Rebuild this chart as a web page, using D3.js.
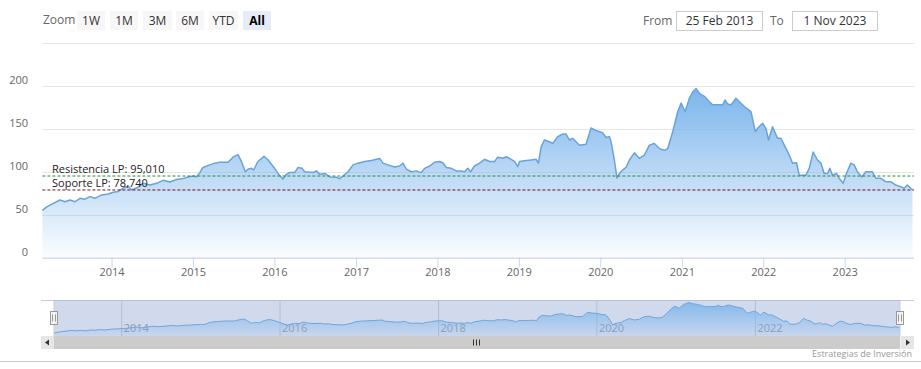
<!DOCTYPE html>
<html><head><meta charset="utf-8">
<script src="https://cdn.jsdelivr.net/npm/d3@7"></script>
<style>
body{margin:0;background:#fff;}
svg{display:block;font-family:"Open Sans",sans-serif;}
</style></head>
<body><svg id="c" width="921" height="369"></svg>
<script>
// ---- data (decimal year, value) ----
const years = [2013.151,2013.204,2013.244,2013.367,2013.428,2013.489,2013.551,2013.612,2013.673,2013.735,2013.796,2013.878,2013.959,2014.020,2014.082,2014.143,2014.204,2014.246,2014.307,2014.388,2014.471,2014.553,2014.634,2014.716,2014.798,2014.879,2014.940,2015.002,2015.043,2015.084,2015.124,2015.206,2015.268,2015.329,2015.431,2015.492,2015.553,2015.595,2015.644,2015.676,2015.718,2015.746,2015.799,2015.872,2015.921,2015.995,2016.044,2016.105,2016.147,2016.187,2016.249,2016.289,2016.338,2016.371,2016.473,2016.515,2016.555,2016.617,2016.678,2016.760,2016.801,2016.841,2016.902,2016.964,2017.025,2017.107,2017.189,2017.291,2017.331,2017.393,2017.475,2017.536,2017.577,2017.618,2017.680,2017.741,2017.802,2017.843,2017.904,2017.965,2018.027,2018.067,2018.109,2018.170,2018.232,2018.293,2018.333,2018.374,2018.407,2018.456,2018.517,2018.579,2018.640,2018.701,2018.742,2018.803,2018.845,2018.906,2018.947,2018.987,2019.008,2019.090,2019.151,2019.213,2019.241,2019.274,2019.314,2019.376,2019.416,2019.478,2019.539,2019.581,2019.621,2019.661,2019.744,2019.826,2019.887,2019.948,2020.029,2020.071,2020.112,2020.132,2020.173,2020.206,2020.234,2020.275,2020.316,2020.357,2020.418,2020.479,2020.541,2020.602,2020.663,2020.725,2020.786,2020.827,2020.888,2020.949,2020.991,2021.040,2021.092,2021.133,2021.175,2021.215,2021.276,2021.338,2021.378,2021.440,2021.501,2021.530,2021.562,2021.604,2021.665,2021.706,2021.767,2021.849,2021.902,2021.930,2021.991,2022.033,2022.065,2022.114,2022.175,2022.217,2022.258,2022.319,2022.359,2022.408,2022.441,2022.524,2022.564,2022.613,2022.666,2022.708,2022.748,2022.789,2022.818,2022.850,2022.899,2022.932,2022.981,2023.022,2023.076,2023.116,2023.156,2023.210,2023.259,2023.340,2023.382,2023.443,2023.505,2023.566,2023.627,2023.689,2023.729,2023.770,2023.811,2023.836];
const prices = [55,59,61,67,65,67,65,69,68,71,69,73,74,76,77,81,83,79,81,86.5,84.5,86.5,90,88,91,92,94,95,94,99,105,108,110,111,111,117,120,112,100,103,104,102,112,118,114,105,98,91.5,97,99,99,105,104,100,99,101,97,98,94,93.5,92,95,100,108,110,112,113,115.5,110,108,105.5,106.7,110,103,100,101,99,104,106.7,111,112,110.5,105,104,101,101,100,104,100,106.7,110,114.5,112,112,117,115.7,117.5,114.5,112,106,112,113,113.7,114.5,110,129,137,135,133,141,144,144,137,139,131,132,151,148,145.5,140,141,135,113.7,92.4,98,102,105,113.7,122,115.7,119.5,131,133,127,125,127,146.7,170,180,170,185.7,193,197,191.5,188,181.7,178,178,178,183.7,179,178,185.7,181.7,176,170,146.7,150.6,156.5,150.6,137,152.5,139,139,131,119.5,110,110.5,96,96,104,123,113.7,110,98,98,104,96,98,92.4,86.5,98,110,108,100,94,100,100,92.4,92.4,88.4,88.4,84.5,82.6,80.7,84.5,80.7,79];
const resistance = 95.010, support = 78.740;
const resistanceLabel = "Resistencia LP: 95,010", supportLabel = "Soporte LP: 78,740";
const yTicks = [0,50,100,150,200];
const yGrid = [0,50,100,150,200,250];
const zoomButtons = ["1W","1M","3M","6M","YTD","All"];
const fromText = "25 Feb 2013", toText = "1 Nov 2023";
const credit = "Estrategias de Inversión";

function toDate(d){const y=Math.floor(d),s=new Date(y,0,1),e=new Date(y+1,0,1);return new Date(+s+(d-y)*(e-s));}
const data = years.map((d,i)=>({date:toDate(d),v:prices[i]}));
data[0].date=new Date(2013,1,25); data[data.length-1].date=new Date(2023,10,1);

const svg=d3.select("#c");
const L=42.4,R=912.5,TOP=43.1,BOT=257.5;
const x=d3.scaleTime().domain([new Date(2013,1,25),new Date(2023,10,1)]).range([L,R]);
const y=d3.scaleLinear().domain([0,250]).range([BOT,TOP]);

const defs=svg.append("defs");
const g1=defs.append("linearGradient").attr("id","ag").attr("x1",0).attr("y1",0).attr("x2",0).attr("y2",1);
g1.append("stop").attr("offset",0).attr("stop-color","#7cb5ec").attr("stop-opacity",1);
g1.append("stop").attr("offset",1).attr("stop-color","#7cb5ec").attr("stop-opacity",0.03);

// gridlines
svg.append("g").selectAll("line").data(yGrid).join("line")
 .attr("x1",L).attr("x2",914).attr("y1",d=>Math.round(y(d))+0.5).attr("y2",d=>Math.round(y(d))+0.5)
 .attr("stroke","#e6e6e6");
// y labels
svg.append("g").selectAll("text").data(yTicks).join("text")
 .attr("x",28).attr("y",d=>y(d)-2).attr("text-anchor","end").attr("fill","#666").attr("font-size",11).text(d=>d);

// area
svg.append("path").datum(data).attr("fill","url(#ag)")
 .attr("d",d3.area().x(d=>x(d.date)).y0(BOT).y1(d=>y(d.v)));
svg.append("path").datum(data).attr("fill","none").attr("stroke","#6aa2da").attr("stroke-width",1.5)
 .attr("stroke-linejoin","round").attr("d",d3.line().x(d=>x(d.date)).y(d=>y(d.v)));

// support/resistance lines
svg.append("line").attr("x1",L).attr("x2",914).attr("y1",y(resistance)).attr("y2",y(resistance))
 .attr("stroke","#2e8b2e").attr("stroke-dasharray","3,2").attr("stroke-width",1);
svg.append("line").attr("x1",L).attr("x2",914).attr("y1",y(support)).attr("y2",y(support))
 .attr("stroke","#7a1020").attr("stroke-dasharray","3,2").attr("stroke-width",1);
svg.append("text").attr("x",52).attr("y",y(resistance)-3).attr("font-size",11).attr("fill","#222").text(resistanceLabel);
svg.append("text").attr("x",52).attr("y",y(support)-3).attr("font-size",11).attr("fill","#222").text(supportLabel);

// x axis
svg.append("line").attr("x1",L).attr("x2",914).attr("y1",BOT+0.5).attr("y2",BOT+0.5).attr("stroke","#ccd6eb");
const xa=svg.append("g").attr("transform",`translate(0,${BOT})`)
 .call(d3.axisBottom(x).ticks(d3.timeYear.every(1)).tickFormat(d3.timeFormat("%Y")).tickSize(10).tickPadding(1));
xa.select(".domain").remove();
xa.selectAll("line").attr("stroke","#ccd6eb");
xa.selectAll("text").attr("fill","#666").attr("font-size",11).attr("font-family","Open Sans");

// navigator
const NT=300,NB=336,NL=54,NR=900;
const xn=d3.scaleTime().domain(x.domain()).range([NL,NR]);
const yn=d3.scaleLinear().domain(d3.extent(prices)).range([333,302.5]);
const g2=defs.append("linearGradient").attr("id","ng").attr("x1",0).attr("y1",0).attr("x2",0).attr("y2",1);
g2.append("stop").attr("offset",0).attr("stop-color","#7cb5ec").attr("stop-opacity",0.9);
g2.append("stop").attr("offset",1).attr("stop-color","#7cb5ec").attr("stop-opacity",0.1);
svg.append("rect").attr("x",NL).attr("y",NT).attr("width",NR-NL).attr("height",NB-NT).attr("fill","rgba(102,133,194,0.3)");
const na=svg.append("g").attr("transform",`translate(0,${NT})`)
 .call(d3.axisBottom(xn).ticks(d3.timeYear.every(2)).tickFormat(d3.timeFormat("%Y")).tickSize(NB-NT));
na.select(".domain").remove();
na.selectAll("line").attr("stroke","rgba(160,170,190,0.6)");
na.selectAll("text").attr("fill","#8f97a8").attr("font-size",11).attr("font-family","Open Sans").attr("text-anchor","start")
 .attr("x",2).attr("y",32).attr("dy",0);
svg.append("path").datum(data).attr("fill","url(#ng)").attr("d",d3.area().x(d=>xn(d.date)).y0(NB).y1(d=>yn(d.v)));
svg.append("path").datum(data).attr("fill","none").attr("stroke","#6fa6dc").attr("stroke-width",1).attr("d",d3.line().x(d=>xn(d.date)).y(d=>yn(d.v)));
svg.append("path").attr("d",`M41,${NT+0.5}H${NL}V${NB}M${NR},${NB}V${NT+0.5}H914`).attr("fill","none").attr("stroke","#ccc");
svg.append("line").attr("x1",NL).attr("x2",NR).attr("y1",NT+0.5).attr("y2",NT+0.5).attr("stroke","#b7c0d4");
[NL,NR].forEach(h=>{
 svg.append("rect").attr("x",h-3.5).attr("y",311.5).attr("width",7).attr("height",13).attr("fill","#f2f2f2").attr("stroke","#999");
 svg.append("path").attr("d",`M${h-1.5},314.5V321.5M${h+1.5},314.5V321.5`).attr("stroke","#999");
});
// scrollbar
svg.append("rect").attr("x",41).attr("y",336).attr("width",873).attr("height",13).attr("fill","#f2f2f2");
svg.append("rect").attr("x",NL).attr("y",336).attr("width",NR-NL).attr("height",13).attr("fill","#cccccc");
svg.append("rect").attr("x",41).attr("y",336).attr("width",13).attr("height",13).attr("fill","#e6e6e6");
svg.append("rect").attr("x",901).attr("y",336).attr("width",13).attr("height",13).attr("fill","#e6e6e6");
svg.append("path").attr("d","M49,339.5L45,342.5L49,345.5Z").attr("fill","#333");
svg.append("path").attr("d","M906,339.5L910,342.5L906,345.5Z").attr("fill","#333");
const cx=(NL+NR)/2;
svg.append("path").attr("d",`M${cx-3.5},339.5V345.5M${cx-0.5},339.5V345.5M${cx+2.5},339.5V345.5`).attr("stroke","#333");
// bottom separator and credit
svg.append("line").attr("x1",0).attr("x2",921).attr("y1",361.5).attr("y2",361.5).attr("stroke","#ccc");
svg.append("text").attr("x",912).attr("y",357).attr("text-anchor","end").attr("font-size",9).attr("fill","#999").text(credit);

// range selector
svg.append("text").attr("x",43).attr("y",24).attr("font-size",12).attr("fill","#666").text("Zoom");
const bx=[77,110,143,176,209,243];
const bw=[28,28,29,28,29,28];
zoomButtons.forEach((b,i)=>{
 const sel=b==="All";
 svg.append("rect").attr("x",bx[i]).attr("y",11).attr("width",bw[i]).attr("height",19).attr("fill",sel?"#e6ebf5":"#f7f7f7");
 svg.append("text").attr("x",bx[i]+bw[i]/2).attr("y",24.5).attr("text-anchor","middle").attr("font-size",12)
  .attr("font-weight",sel?"bold":"normal").attr("fill",sel?"#000":"#333").text(b);
});
svg.append("text").attr("x",643).attr("y",24.5).attr("font-size",12).attr("fill","#666").text("From");
svg.append("rect").attr("x",676.5).attr("y",11.5).attr("width",86).attr("height",19).attr("fill","#fff").attr("stroke","#ccc");
svg.append("text").attr("x",719.5).attr("y",25).attr("text-anchor","middle").attr("font-size",12).attr("fill","#333").text(fromText);
svg.append("text").attr("x",770).attr("y",24.5).attr("font-size",12).attr("fill","#666").text("To");
svg.append("rect").attr("x",792.5).attr("y",11.5).attr("width",85).attr("height",19).attr("fill","#fff").attr("stroke","#ccc");
svg.append("text").attr("x",835).attr("y",25).attr("text-anchor","middle").attr("font-size",12).attr("fill","#333").text(toText);
</script></body></html>
